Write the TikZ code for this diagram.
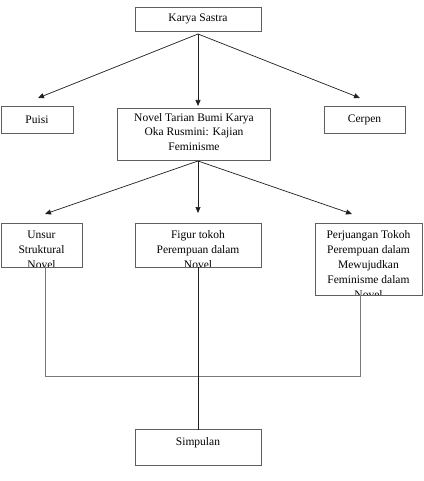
\documentclass[tikz,border=0pt]{standalone}
\usepackage{fontspec}
\setmainfont{Liberation Serif}
\usetikzlibrary{arrows.meta}
\definecolor{boxgray}{RGB}{95,95,95}
\definecolor{linegray}{RGB}{120,120,120}
\definecolor{arrowdark}{RGB}{30,30,30}
\tikzset{
  box/.style={draw=boxgray, line width=0.8pt, inner sep=0pt, outer sep=0pt, fill=white},
  txt/.style={align=center, font=\fontsize{11.5}{14.5}\selectfont, inner sep=0pt, text=black},
  inner/.style={txt, draw=none, fill=none, minimum width=0pt, minimum height=0pt, anchor=north},
  toptext/.style 2 args={path picture={\node[inner] at ([yshift=-#1]path picture bounding box.north) {#2};}},
  cliptext/.style 2 args={path picture={\node[inner, font=\fontsize{11.5}{15}\selectfont] at ([yshift=-#1]path picture bounding box.north) {#2};}},
  arr/.style={draw=arrowdark, line width=0.7pt, -{Triangle[length=6pt,width=5pt]}},
  conn/.style={draw=linegray, line width=0.9pt},
  conndark/.style={draw=arrowdark, line width=0.7pt}
}
\begin{document}
\begin{tikzpicture}[x=1pt, y=-1pt]
\useasboundingbox (0,0) rectangle (423,481);

% level 1
\node[box, txt, minimum width=126pt, minimum height=24pt] (ks) at (198,19) {Karya Sastra};

% level 2
\node[box, txt, minimum width=72pt, minimum height=27pt] (puisi) at (37,119.5) {Puisi};
\node[box, minimum width=153pt, minimum height=52pt,
  toptext={5.5pt}{Novel Tarian Bumi Karya\\Oka Rusmini: Kajian\\Feminisme}] (novel) at (194,134) {};
\node[box, txt, minimum width=81pt, minimum height=27pt] (cerpen) at (364.5,119.5) {Cerpen};

% level 3
\node[box, minimum width=81pt, minimum height=44pt,
  cliptext={7.5pt}{Unsur\\Struktural\\Novel}] (unsur) at (41.5,245) {};
\node[box, minimum width=126pt, minimum height=44pt,
  cliptext={7.3pt}{Figur tokoh\\Perempuan dalam\\Novel}] (figur) at (198,245) {};
\node[box, minimum width=107pt, minimum height=72pt,
  cliptext={7.5pt}{Perjuangan Tokoh\\Perempuan dalam\\Mewujudkan\\Feminisme dalam\\Novel}] (perj) at (368.5,259) {};

% conclusion
\node[box, minimum width=126pt, minimum height=36pt,
  toptext={8pt}{Simpulan}] (simp) at (198,447.5) {};

% arrows level 1 -> 2
\coordinate (ksb) at ([yshift=-3pt]ks.south);
\coordinate (puisit) at ([xshift=1pt, yshift=8pt]puisi.north);
\coordinate (novelt) at ([xshift=4pt, yshift=2pt]novel.north);
\coordinate (cerpent) at ([xshift=-4.5pt, yshift=8pt]cerpen.north);
\draw[arr] (ksb) -- (puisit);
\draw[arr] (ksb) -- (novelt);
\draw[arr] (ksb) -- (cerpent);

% arrows level 2 -> 3
\coordinate (novb) at ([xshift=4pt, yshift=-1pt]novel.south);
\coordinate (unsurt) at ([xshift=3.5pt, yshift=9pt]unsur.north);
\coordinate (figurt) at ([yshift=10pt]figur.north);
\coordinate (perjt) at ([xshift=-16.5pt, yshift=9pt]perj.north);
\draw[arr] (novb) -- (unsurt);
\draw[arr] (novb) -- (figurt);
\draw[arr] (novb) -- (perjt);

% lines to conclusion
\coordinate (us) at ([xshift=4pt]unsur.south);
\coordinate (ps) at ([xshift=-8.5pt]perj.south);
\draw[conn] (us) -- ++(0,109) -| (ps);
\draw[conndark] (figur.south) -- (simp.north);
\end{tikzpicture}
\end{document}
